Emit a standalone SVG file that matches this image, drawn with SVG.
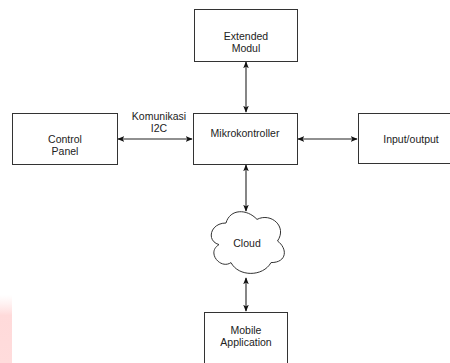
<svg xmlns="http://www.w3.org/2000/svg" width="450" height="363" viewBox="0 0 450 363">
<defs>
<style>
.box{fill:#fff;stroke:#333;stroke-width:1}
.t{font-family:"Liberation Sans",Arial,sans-serif;font-size:10.5px;fill:#222;text-anchor:middle}
.c{fill:none;stroke:#222;stroke-width:1.1}
</style>
<marker id="ah" viewBox="0 0 10 8" refX="9" refY="4" markerWidth="7" markerHeight="6" markerUnits="userSpaceOnUse" orient="auto-start-reverse">
<path d="M0,0 L10,4 L0,8 L2.5,4 Z" fill="#111"/>
</marker>
<linearGradient id="pk" x1="0" y1="0" x2="0" y2="1">
<stop offset="0" stop-color="#ffe0e0" stop-opacity="0"/>
<stop offset="0.3" stop-color="#ffd6d6" stop-opacity="0.9"/>
<stop offset="1" stop-color="#ffdcdc"/>
</linearGradient>
</defs>
<rect width="450" height="363" fill="#fff"/>
<rect x="0" y="295" width="12" height="68" fill="url(#pk)"/>
<g id="connectors">
<line class="c" x1="246" y1="62" x2="246" y2="112" marker-start="url(#ah)" marker-end="url(#ah)"/>
<line class="c" x1="118" y1="139" x2="192" y2="139" marker-start="url(#ah)" marker-end="url(#ah)"/>
<line class="c" x1="298" y1="139" x2="357" y2="139" marker-start="url(#ah)" marker-end="url(#ah)"/>
<line class="c" x1="246" y1="165" x2="246" y2="211" marker-start="url(#ah)" marker-end="url(#ah)"/>
<line class="c" x1="246" y1="278" x2="246" y2="311" marker-start="url(#ah)" marker-end="url(#ah)"/>
<text class="t" x="159" y="120">Komunikasi</text>
<text class="t" x="159" y="132">I2C</text>
</g>
<g id="extended">
<rect class="box" x="194.5" y="9.5" width="103" height="52"/>
<text class="t" x="246" y="39.5">Extended</text>
<text class="t" x="246" y="52">Modul</text>
</g>
<g id="control">
<rect class="box" x="12.5" y="113.5" width="105" height="51"/>
<text class="t" x="65" y="143">Control</text>
<text class="t" x="65" y="155">Panel</text>
</g>
<g id="mikro">
<rect class="box" x="193.5" y="113.5" width="104" height="51"/>
<text class="t" x="245" y="136.7">Mikrokontroller</text>
</g>
<g id="io">
<rect class="box" x="358.5" y="113.5" width="110" height="50"/>
<text class="t" x="411" y="142.5">Input/output</text>
</g>
<g id="cloud">
<path class="box" d="M226,223 C210,223 206,241 219,244.6 C206,252.5 220.5,269.8 231,262.6 C238.5,277 263,277 271,262.6 C287.5,262.6 287.5,248.2 277.5,241 C287.5,226.6 271,212.2 257,219.4 C247,208.6 230,208.6 226,223 Z"/>
<text class="t" x="247" y="246.5">Cloud</text>
</g>
<g id="mobile">
<rect class="box" x="204.5" y="312.5" width="83" height="60"/>
<text class="t" x="246" y="334">Mobile</text>
<text class="t" x="246" y="346">Application</text>
</g>
</svg>
